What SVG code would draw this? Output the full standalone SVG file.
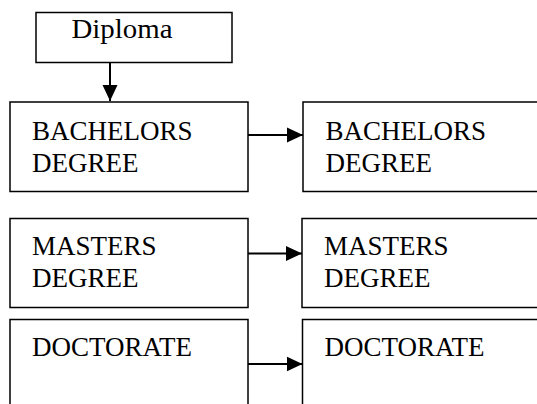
<svg xmlns="http://www.w3.org/2000/svg" width="537" height="404" viewBox="0 0 537 404">
<style>
.box{fill:#fff;stroke:#000;stroke-width:1.5}
.t{font-family:"Liberation Serif","Times New Roman",serif;font-size:27px;fill:#000}
.c{stroke:#000;stroke-width:2;fill:none}
</style>
<defs>
<marker id="ah" markerWidth="16" markerHeight="16" viewBox="0 0 16 16" refX="16" refY="8" orient="auto" markerUnits="userSpaceOnUse">
<path d="M0,0.5 L16,8 L0,15.5 Z" fill="#000"/>
</marker>
</defs>
<rect width="537" height="404" fill="#fff"/>
<g id="diploma">
<rect class="box" x="36" y="12.5" width="196" height="50"/>
<text class="t" x="71.5" y="37.7" textLength="101" lengthAdjust="spacingAndGlyphs">Diploma</text>
</g>
<g id="bachelors-left">
<rect class="box" x="10" y="102" width="238" height="89.5"/>
<text class="t" x="32" y="140">BACHELORS</text>
<text class="t" x="32" y="171.7">DEGREE</text>
</g>
<g id="bachelors-right">
<rect class="box" x="303" y="102" width="250" height="89.5"/>
<text class="t" x="325.5" y="140">BACHELORS</text>
<text class="t" x="325.5" y="171.7">DEGREE</text>
</g>
<g id="masters-left">
<rect class="box" x="10" y="218.5" width="238" height="89"/>
<text class="t" x="32" y="254.5">MASTERS</text>
<text class="t" x="32" y="286.7">DEGREE</text>
</g>
<g id="masters-right">
<rect class="box" x="302" y="218.5" width="250" height="89"/>
<text class="t" x="324" y="254.5">MASTERS</text>
<text class="t" x="324" y="286.7">DEGREE</text>
</g>
<g id="doctorate-left">
<rect class="box" x="10" y="319.5" width="238" height="100"/>
<text class="t" x="32" y="356">DOCTORATE</text>
</g>
<g id="doctorate-right">
<rect class="box" x="302.5" y="319.5" width="250" height="100"/>
<text class="t" x="324.5" y="356">DOCTORATE</text>
</g>
<g id="connectors">
<line class="c" x1="110" y1="63" x2="110" y2="101" marker-end="url(#ah)"/>
<line class="c" x1="248" y1="135" x2="303" y2="135" marker-end="url(#ah)"/>
<line class="c" x1="248" y1="253.5" x2="302" y2="253.5" marker-end="url(#ah)"/>
<line class="c" x1="248" y1="364" x2="302.5" y2="364" marker-end="url(#ah)"/>
</g>
</svg>
